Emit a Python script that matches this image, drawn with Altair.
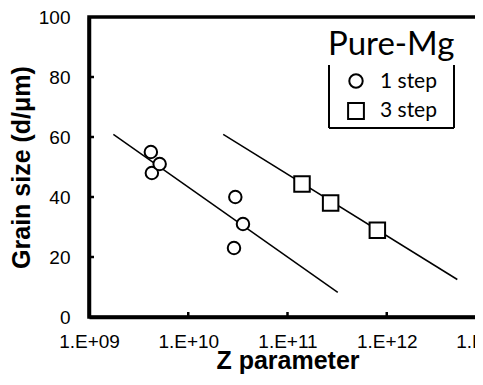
import altair as alt
import pandas as pd

# ---- data ----
z_1step = [4.2e9, 4.3e9, 5.15e9, 2.98e10, 3.56e10, 2.89e10]
d_1step = [55, 48, 51, 40, 31, 23]
z_3step = [1.40e11, 2.72e11, 8.04e11]
d_3step = [44.3, 38.0, 28.9]
fit1_z = [1.76e9, 3.21e11]
fit1_d = [60.9, 8.2]
fit2_z = [2.25e10, 5.14e12]
fit2_d = [60.9, 12.5]
x_ticks = [1e9, 1e10, 1e11, 1e12, 1e13]
y_ticks = [0, 20, 40, 60, 80, 100]
series_names = ["1 step", "3 step"]
series_shapes = ["circle", "square"]
legend_title = "Pure-Mg"

W, H = 397, 300

pts = pd.DataFrame({
    "z": z_1step + z_3step,
    "d": d_1step + d_3step,
    "series": [series_names[0]] * len(z_1step) + [series_names[1]] * len(z_3step),
})
fits = pd.DataFrame({
    "z": fit1_z + fit2_z,
    "d": fit1_d + fit2_d,
    "fit": ["a", "a", "b", "b"],
})
xt = pd.DataFrame({"z": x_ticks[1:-1]})
yt = pd.DataFrame({"d": y_ticks[1:-1]})

xscale = alt.Scale(type="log", domain=[x_ticks[0], x_ticks[-1]], nice=False)
yscale = alt.Scale(domain=[y_ticks[0], y_ticks[-1]], nice=False, zero=False)

xaxis = alt.Axis(
    values=x_ticks,
    labelExpr="'1.E+' + format(log(datum.value)/LN10, '02d')",
    tickSize=0, grid=False, domainColor="black", domainWidth=3.5,
    labelFont="Liberation Sans", labelFontSize=19, labelColor="black",
    labelPadding=15, labelFlush=False, labelOverlap=False,
    title="Z parameter", titleFont="Liberation Sans", titleFontSize=25,
    titleFontWeight="bold", titleColor="black", titlePadding=-3,
)
yaxis = alt.Axis(
    values=y_ticks, tickSize=0, grid=False, domainColor="black", domainWidth=3.5,
    labelFont="Liberation Sans", labelFontSize=19, labelColor="black",
    labelPadding=19, labelFlush=False,
    title="Grain size (d/μm)", titleFont="Liberation Sans", titleFontSize=25,
    titleFontWeight="bold", titleColor="black", titlePadding=4,
)

lines = alt.Chart(fits).mark_line(color="black", strokeWidth=1.5).encode(
    x=alt.X("z:Q", scale=xscale, axis=xaxis),
    y=alt.Y("d:Q", scale=yscale, axis=yaxis),
    detail="fit:N",
)

points = alt.Chart(pts).mark_point(
    filled=False, color="black", fill="white", fillOpacity=1,
    stroke="black", strokeWidth=2, opacity=1
).encode(
    x=alt.X("z:Q", scale=xscale),
    y=alt.Y("d:Q", scale=yscale),
    shape=alt.Shape("series:N",
                    scale=alt.Scale(domain=series_names, range=series_shapes),
                    legend=None),
    size=alt.condition(alt.datum.series == series_names[0],
                       alt.value(156), alt.value(240)),
)

xticks = alt.Chart(xt).mark_rule(color="black", strokeWidth=2.5).encode(
    x=alt.X("z:Q", scale=xscale), y=alt.value(H), y2=alt.value(H - 5)
)
yticks = alt.Chart(yt).mark_rule(color="black", strokeWidth=2.5).encode(
    y=alt.Y("d:Q", scale=yscale), x=alt.value(0), x2=alt.value(5)
)

# ---- legend (drawn as a small framed key) ----
one = pd.DataFrame({"k": [0]})
LX, LR, LT, LB = 240, 365, 48, 111
box_l = alt.Chart(one).mark_rule(color="black", strokeWidth=2).encode(
    x=alt.value(LX), y=alt.value(LT), y2=alt.value(LB))
box_r = alt.Chart(one).mark_rule(color="black", strokeWidth=2).encode(
    x=alt.value(LR), y=alt.value(LT), y2=alt.value(LB))
box_b = alt.Chart(one).mark_rule(color="black", strokeWidth=2).encode(
    x=alt.value(LX), x2=alt.value(LR), y=alt.value(LB))

leg_title = alt.Chart(one).mark_text(
    text=legend_title, font="Lato", fontSize=33, color="black",
    align="left", baseline="alphabetic"
).encode(x=alt.value(LX - 1), y=alt.value(38))

leg_sym1 = alt.Chart(one).mark_point(
    shape=series_shapes[0], size=180, filled=False, color="black",
    fill="white", fillOpacity=1, strokeWidth=2, opacity=1
).encode(x=alt.value(LX + 27), y=alt.value(64))
leg_sym2 = alt.Chart(one).mark_point(
    shape=series_shapes[1], size=250, filled=False, color="black",
    fill="white", fillOpacity=1, strokeWidth=2, opacity=1
).encode(x=alt.value(LX + 27), y=alt.value(94))
leg_lab1 = alt.Chart(one).mark_text(
    text=series_names[0], font="Lato", fontSize=21, color="black",
    align="left", baseline="alphabetic"
).encode(x=alt.value(LX + 51), y=alt.value(71))
leg_lab2 = alt.Chart(one).mark_text(
    text=series_names[1], font="Lato", fontSize=21, color="black",
    align="left", baseline="alphabetic"
).encode(x=alt.value(LX + 51), y=alt.value(100))

chart = alt.layer(
    lines, xticks, yticks, points,
    box_l, box_r, box_b, leg_title, leg_sym1, leg_sym2, leg_lab1, leg_lab2
).properties(
    width=W, height=H,
    autosize=alt.AutoSizeParams(type="none"),
    padding={"left": 81, "top": 9, "right": -11, "bottom": 60},
    background="white",
).configure_view(stroke="black", strokeWidth=3.5)

chart.save("out.html", embed_options={"renderer": "svg", "actions": False})
